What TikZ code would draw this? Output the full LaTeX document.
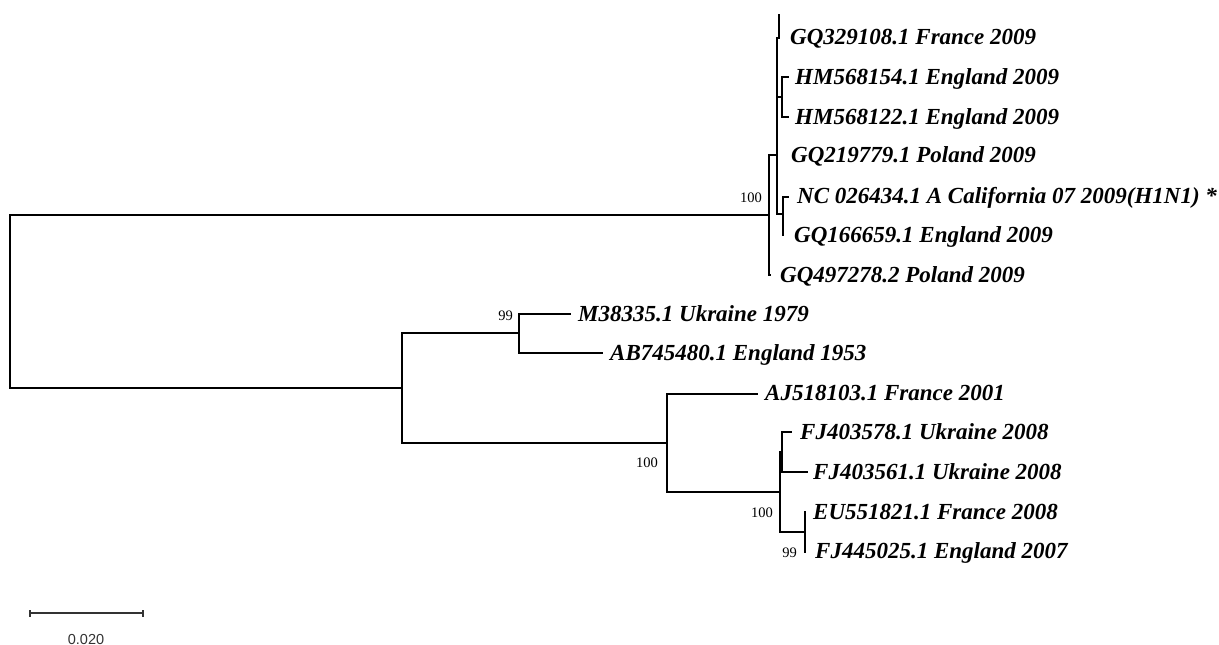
\documentclass[tikz,border=0pt]{standalone}
\usepackage{fontspec}
\setmainfont{Liberation Serif}
\newfontfamily\barfont{Liberation Sans}
\begin{document}
\begin{tikzpicture}[x=1pt,y=-1pt,
  br/.style={line width=2pt,line join=miter,line cap=rect},
  taxon/.style={anchor=base west,inner sep=0pt,font=\fontsize{23}{23}\selectfont\bfseries\itshape},
  boot/.style={anchor=base east,inner sep=0pt,font=\fontsize{14.5}{14.5}\selectfont},
  scalebar/.style={line width=1.3pt,color=black!80}]
\useasboundingbox (0,0) rectangle (1219,645);

% internal nodes
\coordinate (root) at (10,301.5);
\coordinate (P) at (769,215);
\coordinate (Q) at (777,155);
\coordinate (H) at (782,97);
\coordinate (N) at (783,214);
\coordinate (R) at (402,388);
\coordinate (S) at (519,333);
\coordinate (T) at (667,443);
\coordinate (U) at (780,492);
\coordinate (V) at (782,452);
\coordinate (W) at (805,532);

% tips
\coordinate (t1) at (779,38);
\coordinate (t2) at (788,77);
\coordinate (t3) at (788,117);
\coordinate (t5) at (788,197);
\coordinate (t6) at (783,235);
\coordinate (t7) at (770,275);
\coordinate (t8) at (570,314);
\coordinate (t9) at (602,353);
\coordinate (t10) at (757,394);
\coordinate (t11) at (791,432);
\coordinate (t12) at (807,472);
\coordinate (t13) at (805,512);
\coordinate (t14) at (805,552);

% branches
\draw[br] (root) |- (P);
\draw[br] (root) |- (R);
\draw[br] (P) |- (Q);
\draw[br] (P) |- (t7);
\draw[br] (Q) |- (t1) -- ++(0,-23);
\draw[br] (Q) |- (H);
\draw[br] (H) |- (t2);
\draw[br] (H) |- (t3);
\draw[br] (Q) |- (N);
\draw[br] (N) |- (t5);
\draw[br] (N) -- (t6);
\draw[br] (R) |- (S);
\draw[br] (R) |- (T);
\draw[br] (S) |- (t8);
\draw[br] (S) |- (t9);
\draw[br] (T) |- (t10);
\draw[br] (T) |- (U);
\draw[br] (U) |- (V);
\draw[br] (V) |- (t11);
\draw[br] (V) |- (t12);
\draw[br] (U) |- (W);
\draw[br] (W) -- (t13);
\draw[br] (W) -- (t14);

% taxon labels
\node[taxon] (l1) at (790,45) {GQ329108.1 France 2009};
\node[taxon] (l2) at (795,84) {HM568154.1 England 2009};
\node[taxon] (l3) at (795,124) {HM568122.1 England 2009};
\node[taxon] (l4) at (791,162) {GQ219779.1 Poland 2009};
\node[taxon] (l5) at (797,203) {NC 026434.1 A California 07 2009(H1N1) *};
\node[taxon] (l6) at (794,242) {GQ166659.1 England 2009};
\node[taxon] (l7) at (780,282) {GQ497278.2 Poland 2009};
\node[taxon] (l8) at (578,321) {M38335.1 Ukraine 1979};
\node[taxon] (l9) at (610,360) {AB745480.1 England 1953};
\node[taxon] (l10) at (765,400) {AJ518103.1 France 2001};
\node[taxon] (l11) at (800,439) {FJ403578.1 Ukraine 2008};
\node[taxon] (l12) at (813,479) {FJ403561.1 Ukraine 2008};
\node[taxon] (l13) at (813,519) {EU551821.1 France 2008};
\node[taxon] (l14) at (815,558) {FJ445025.1 England 2007};

% bootstrap values
\node[boot] (bP) at (762,202) {100};
\node[boot] (bS) at (513,320) {99};
\node[boot] (bT) at (658,467) {100};
\node[boot] (bU) at (773,517) {100};
\node[boot] (bW) at (797,557) {99};

% scale bar
\coordinate (sb1) at (30,613);
\coordinate (sb2) at (143,613);
\draw[scalebar] (sb1) -- (sb2);
\draw[scalebar] ([yshift=-3.5pt]sb1) -- ([yshift=3.5pt]sb1);
\draw[scalebar] ([yshift=-3.5pt]sb2) -- ([yshift=3.5pt]sb2);
\node[anchor=base,inner sep=0pt,text=black!80,font=\barfont\fontsize{14.5}{14.5}\selectfont] (sbl) at (86,644) {0.020};
\end{tikzpicture}
\end{document}
